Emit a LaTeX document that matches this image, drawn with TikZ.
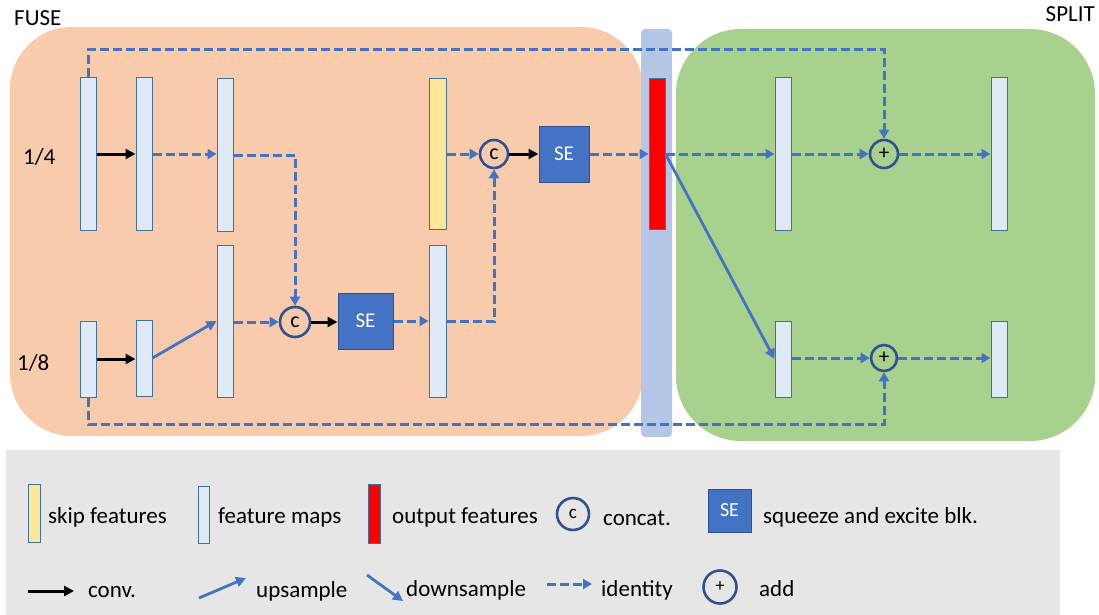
\documentclass[tikz,border=0pt]{standalone}
\usepackage{fontspec}
\setmainfont{Carlito}
\usetikzlibrary{arrows.meta}
\definecolor{orangebg}{HTML}{F8CBAD}
\definecolor{greenbg}{HTML}{A9D18E}
\definecolor{bluebar}{HTML}{B4C7E7}
\definecolor{fmapfill}{HTML}{DEEBF7}
\definecolor{fmapdraw}{HTML}{41719C}
\definecolor{skipfill}{HTML}{FFE699}
\definecolor{seblue}{HTML}{4472C4}
\definecolor{sedraw}{HTML}{2F528F}
\definecolor{legendgray}{HTML}{E7E6E6}
\tikzset{
  fmap/.style={draw=fmapdraw, fill=fmapfill, line width=1pt, minimum width=16pt, inner sep=0pt},
  skipbar/.style={fmap, fill=skipfill},
  outbar/.style={fmap, fill=red},
  sebox/.style={draw=sedraw, fill=seblue, line width=1pt, inner sep=0pt, text=white, font=\fontsize{21}{24}\selectfont},
  circop/.style={circle, draw=sedraw, line width=2.6pt, inner sep=0pt, font=\fontsize{22}{24}\selectfont},
  lbl/.style={inner sep=0pt, font=\fontsize{23}{27}\selectfont},
  convarrow/.style={draw=black, line width=3pt, -{Triangle[length=10pt,width=10pt]}},
  idarrow/.style={draw=seblue, line width=3pt, dash pattern=on 9pt off 4pt, -{Triangle[length=9pt,width=10pt]}},
  samparrow/.style={draw=seblue, line width=2.8pt, -{Triangle[length=10pt,width=10pt]}},
}
\begin{document}
\begin{tikzpicture}[x=1pt,y=-1pt]
\useasboundingbox (0,0) rectangle (1099,615);
% backgrounds
\fill[orangebg, rounded corners=62pt] (10,27) rectangle (643,436);
\fill[greenbg, rounded corners=65pt] (676,29) rectangle (1095,441);
\fill[bluebar, rounded corners=4pt] (641,29) rectangle (672,437);
\fill[legendgray] (6,450) rectangle (1060,615);
% titles
\node[lbl, anchor=base west] (tfuse) at (14,26) {FUSE};
\node[lbl, anchor=base east] (tsplit) at (1095,22) {SPLIT};
\node[lbl, anchor=base west] (tq) at (23,164) {1/4};
\node[lbl, anchor=base west] (te) at (17,370) {1/8};
% bars
\node[fmap, minimum height=152pt] (A1) at (88,154) {};
\node[fmap, minimum height=152pt] (A2) at (144,154) {};
\node[fmap, minimum height=152pt] (A3) at (225,155) {};
\node[skipbar, minimum width=17pt, minimum height=151pt] (Y) at (437.5,154) {};
\node[fmap, minimum height=76pt] (B1) at (88,359) {};
\node[fmap, minimum height=76pt] (B2) at (144,358) {};
\node[fmap, minimum height=152pt] (B3) at (225,321) {};
\node[fmap, minimum width=17pt, minimum height=152pt] (B4) at (437.5,321) {};
\node[fmap, minimum height=152pt] (R1) at (783,154) {};
\node[fmap, minimum height=152pt] (R2) at (999,154) {};
\node[fmap, minimum height=76pt] (R3) at (783,359) {};
\node[fmap, minimum height=76pt] (R4) at (999,359) {};
% ops
\node[circop, minimum size=30pt] (C1) at (295,322) {c};
\node[circop, minimum size=28pt] (C2) at (494,154) {c};
\node[sebox, minimum width=55pt, minimum height=56pt] (S1) at (365.5,321) {SE};
\node[sebox, minimum width=50pt, minimum height=56pt] (S2) at (564,154) {SE};
\node[circop, minimum size=28pt, font=\fontsize{21}{22}\selectfont] (P1) at (884,154) {+};
\node[circop, minimum size=26pt, font=\fontsize{21}{22}\selectfont] (P2) at (884,358) {+};
% skip connections
\coordinate (topY) at (0,50);
\coordinate (botY) at (0,424);
\draw[idarrow] (A1.north) -- (A1.north |- topY) -| (P1.north);
\draw[idarrow] (B1.south) -- (B1.south |- botY) -| (P2.south);
% output bar (over the blue band)
\node[outbar, minimum height=151pt] (RED) at (657,154) {};
% connectors
\draw[convarrow] (A1.east) -- (A2.west);
\draw[idarrow] (A2.east) -- (A3.west |- A2.east);
\draw[idarrow] (A3.east) -| (C1.north);
\draw[convarrow] (B1.east) -- (B2.west |- B1.east);
\draw[samparrow] (B2.east) -- (B3.west);
\draw[idarrow] (B3.east |- C1.west) -- (C1.west);
\draw[convarrow] (C1.east) -- (S1.west |- C1.east);
\draw[idarrow] (S1.east) -- (B4.west);
\draw[idarrow] (B4.east) -| (C2.south);
\draw[idarrow] (Y.east) -- (C2.west);
\draw[convarrow] (C2.east) -- (S2.west);
\draw[idarrow] (S2.east) -- (RED.west);
\draw[idarrow] (RED.east) -- (R1.west);
\draw[samparrow] (RED.east) -- (R3.west);
\draw[idarrow] (R1.east) -- (P1.west);
\draw[idarrow] (P1.east) -- (R2.west);
\draw[idarrow] (R3.east |- P2.west) -- (P2.west);
\draw[idarrow] (P2.east) -- (R4.west |- P2.east);
% legend
\node[skipbar, minimum width=12pt, minimum height=58pt] (LY) at (34,513) {};
\node[lbl, anchor=base west] (LYt) at (48,523) {skip features};
\node[fmap, minimum width=11pt, minimum height=57pt] (LF) at (203.5,514.5) {};
\node[lbl, anchor=base west] (LFt) at (218,523) {feature maps};
\node[outbar, minimum width=12pt, minimum height=59pt] (LR) at (374,513.5) {};
\node[lbl, anchor=base west] (LRt) at (392,523) {output features};
\node[circop, minimum size=32pt, font=\fontsize{19}{20}\selectfont] (LC) at (573,514) {c};
\node[lbl, anchor=base west] (LCt) at (603,525) {concat.};
\node[sebox, minimum width=43pt, minimum height=43pt, font=\fontsize{20}{22}\selectfont] (LS) at (729.5,510.5) {SE};
\node[lbl, anchor=base west] (LSt) at (763,523) {squeeze and excite blk.};
\coordinate (lc1) at (28,591); \coordinate (lc2) at (74,591);
\draw[convarrow] (lc1) -- (lc2);
\node[lbl, anchor=base west] (Lct) at (88,597) {conv.};
\coordinate (lu1) at (199,598); \coordinate (lu2) at (246,578);
\draw[samparrow] (lu1) -- (lu2);
\node[lbl, anchor=base west] (Lut) at (256,597) {upsample};
\coordinate (ld1) at (367,575); \coordinate (ld2) at (403,601);
\draw[samparrow] (ld1) -- (ld2);
\node[lbl, anchor=base west] (Ldt) at (406,596) {downsample};
\coordinate (li1) at (547,584); \coordinate (li2) at (592,584);
\draw[idarrow] (li1) -- (li2);
\node[lbl, anchor=base west] (Lit) at (601,596) {identity};
\node[circop, minimum size=33pt, font=\fontsize{18}{20}\selectfont] (LP) at (720,587) {+};
\node[lbl, anchor=base west] (LPt) at (759,596) {add};
\end{tikzpicture}
\end{document}
